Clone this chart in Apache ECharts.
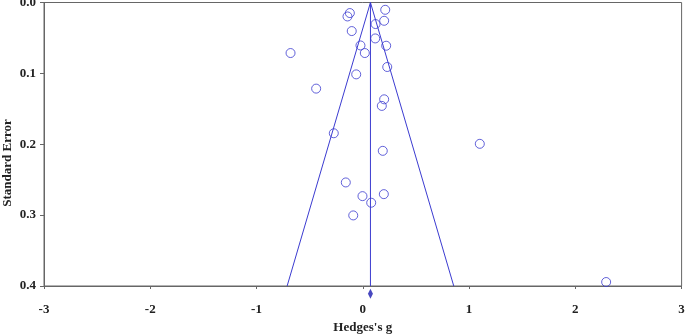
<!DOCTYPE html>
<html>
<head>
<meta charset="utf-8">
<script src="https://cdn.jsdelivr.net/npm/echarts@6/dist/echarts.min.js"></script>
<style>html,body{margin:0;padding:0;background:#fff}#c{width:685px;height:336px}</style>
</head>
<body>
<div id="c"></div>
<script>
// Study effect sizes (Hedges's g) and standard errors
var hedgesG = [-0.122,-0.144,0.211,0.201,0.120,-0.104,0.117,0.220,-0.022,0.019,-0.680,0.230,-0.062,-0.439,0.201,0.179,-0.273,0.188,1.101,-0.160,-0.003,0.198,0.079,-0.090,2.290];
var stdErr   = [0.0149,0.0197,0.0103,0.0258,0.0304,0.0403,0.0507,0.0610,0.0606,0.0713,0.0713,0.0910,0.1014,0.1215,0.1366,0.1459,0.1845,0.2093,0.1994,0.2539,0.2732,0.2704,0.2825,0.3004,0.3944];
var pooledG = 0.072;
var seMax = 0.4;
var zCrit = 1.96;
var xTicks = [-3,-2,-1,0,1,2,3];
var yTicks = [0.0,0.1,0.2,0.3,0.4];
var xTitle = "Hedges's g";
var yTitle = 'Standard Error';

var points = hedgesG.map(function(g,i){return [g, stdErr[i]];});
var funnelLeft = [[pooledG - zCrit*seMax, seMax],[pooledG, 0],[pooledG + zCrit*seMax, seMax]];
var centerLine = [[pooledG, 0],[pooledG, seMax]];
var diamond = [[pooledG, seMax + 0.011]];

var blue = '#3b3bd0';
var axisGray = '#666';
var font = {fontFamily:'Liberation Serif', fontWeight:'bold', fontSize:13, color:'#222'};

var chart = echarts.init(document.getElementById('c'), null, {renderer:'canvas'});
chart.setOption({
  animation:false,
  grid:{left:44, right:3.4, top:2.5, bottom:50, show:true, borderColor:axisGray, borderWidth:1, backgroundColor:'transparent', containLabel:false, outerBoundsMode:'none'},
  graphic:[{type:'text', x:8, y:163, rotation:Math.PI/2,
    style:{text:yTitle, x:0, y:0, align:'center', verticalAlign:'middle',
      font:'bold 13px "Liberation Serif"', fill:'#222'}}],
  xAxis:{type:'value', min:-3, max:3, interval:1,
    name:xTitle, nameLocation:'middle', nameGap:35,
    nameTextStyle:Object.assign({}, font),
    axisLine:{show:true, onZero:false, lineStyle:{color:axisGray, width:1}},
    axisTick:{show:true, inside:false, length:3, lineStyle:{color:axisGray}},
    splitLine:{show:false},
    axisLabel:Object.assign({margin:17, formatter:function(v){return xTicks.indexOf(v)>=0? String(v):'';}}, font)
  },
  yAxis:{type:'value', inverse:true, min:0, max:0.4, interval:0.1,
    axisLine:{show:true, onZero:false, lineStyle:{color:axisGray, width:1}},
    axisTick:{show:true, inside:false, length:4, lineStyle:{color:axisGray}},
    splitLine:{show:false},
    axisLabel:Object.assign({margin:8, formatter:function(v){return v.toFixed(1);}}, font)
  },
  series:[
    {type:'line', data:funnelLeft, symbol:'none', lineStyle:{color:blue, width:1}, silent:true, z:2},
    {type:'line', data:centerLine, symbol:'none', lineStyle:{color:blue, width:1}, silent:true, z:2},
    {type:'scatter', data:points, symbol:'circle', symbolSize:9,
      itemStyle:{color:'rgba(255,255,255,0)', borderColor:blue, borderWidth:1}, z:3},
    {type:'scatter', data:diamond, symbol:'diamond', symbolSize:[5,10], clip:false,
      itemStyle:{color:'#1a1ab0'}, z:4}
  ]
});
</script>
</body>
</html>
